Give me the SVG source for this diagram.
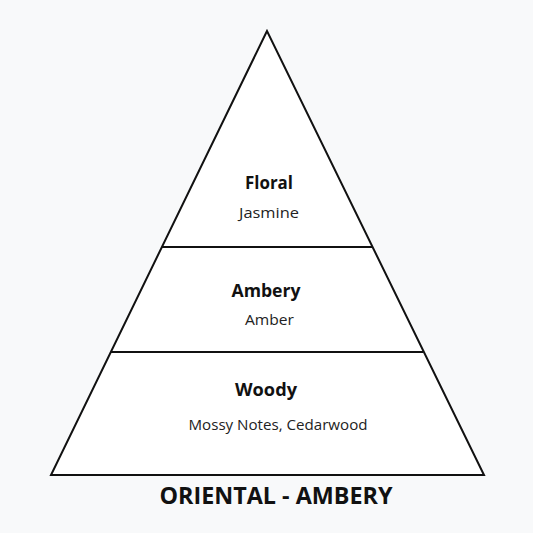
<svg xmlns="http://www.w3.org/2000/svg" width="533" height="533" viewBox="0 0 533 533">
<style>
.edge{fill:none;stroke:#111;stroke-width:2}
.h{font-family:"Open Sans","Liberation Sans",sans-serif;font-weight:700;font-size:17px;fill:#111;text-anchor:middle}
.s{font-family:"Open Sans","Liberation Sans",sans-serif;font-weight:400;font-size:14px;fill:#222;text-anchor:middle}
.t{font-family:"Open Sans","Liberation Sans",sans-serif;font-weight:700;font-size:23px;fill:#111;text-anchor:middle}
</style>
<rect width="533" height="533" fill="#f8f9fa"/>
<g id="pyramid">
<polygon points="267,31 51,475 484,475" fill="#fff" stroke="#111" stroke-width="2" stroke-linejoin="miter"/>
</g>
<g id="connectors">
<line class="edge" x1="162" y1="247" x2="372" y2="247"/>
<line class="edge" x1="111" y1="352" x2="423" y2="352"/>
</g>
<g id="top">
<text class="h" x="269" y="189" textLength="48" lengthAdjust="spacingAndGlyphs">Floral</text>
<text class="s" x="269" y="218" textLength="60" lengthAdjust="spacingAndGlyphs">Jasmine</text>
</g>
<g id="middle">
<text class="h" x="266" y="296.5" textLength="69" lengthAdjust="spacingAndGlyphs">Ambery</text>
<text class="s" x="269.5" y="325" textLength="49" lengthAdjust="spacingAndGlyphs">Amber</text>
</g>
<g id="base">
<text class="h" x="266" y="395.5" textLength="62" lengthAdjust="spacingAndGlyphs">Woody</text>
<text class="s" x="278" y="430" textLength="179" lengthAdjust="spacingAndGlyphs">Mossy Notes, Cedarwood</text>
</g>
<g id="title">
<text class="t" x="276" y="504" textLength="233" lengthAdjust="spacingAndGlyphs">ORIENTAL - AMBERY</text>
</g>
</svg>
